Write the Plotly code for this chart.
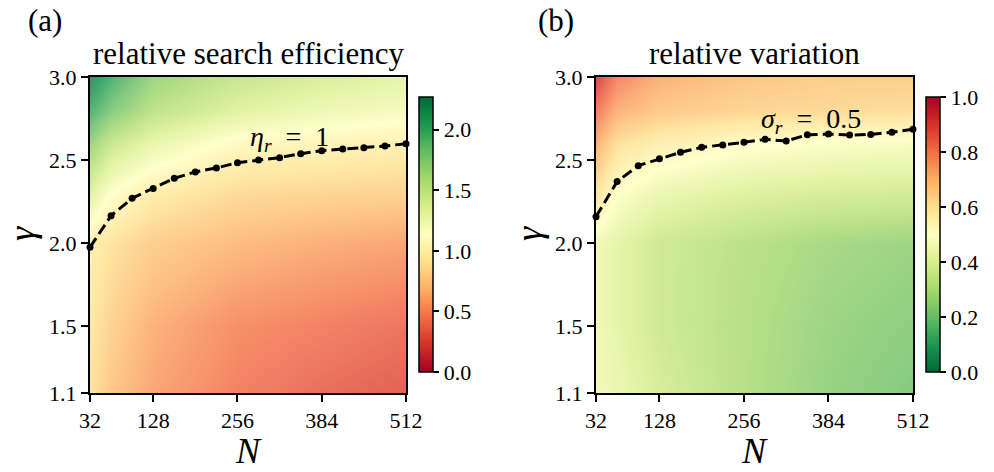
import plotly.graph_objects as go

# ---------------- data ----------------
N_grid = [32, 64, 128, 256, 384, 512]
gamma_grid = [1.1, 1.5, 2.0, 2.3, 2.6, 2.8, 3.0]

# relative search efficiency eta_r (rows: gamma_grid, cols: N_grid)
eta_r = [
    [0.90, 0.74, 0.58, 0.42, 0.33, 0.27],
    [0.93, 0.80, 0.63, 0.48, 0.42, 0.36],
    [1.00, 0.90, 0.78, 0.68, 0.62, 0.58],
    [1.35, 1.13, 0.97, 0.85, 0.82, 0.80],
    [1.70, 1.48, 1.28, 1.08, 1.04, 1.00],
    [2.00, 1.80, 1.55, 1.35, 1.25, 1.20],
    [2.20, 2.00, 1.70, 1.50, 1.40, 1.32],
]

# relative variation sigma_r
sigma_r = [
    [0.46, 0.44, 0.38, 0.30, 0.24, 0.20],
    [0.46, 0.42, 0.36, 0.30, 0.25, 0.22],
    [0.46, 0.42, 0.36, 0.31, 0.27, 0.25],
    [0.60, 0.50, 0.44, 0.40, 0.38, 0.37],
    [0.72, 0.61, 0.56, 0.51, 0.49, 0.48],
    [0.82, 0.72, 0.67, 0.64, 0.63, 0.62],
    [0.93, 0.80, 0.72, 0.68, 0.66, 0.66],
]

N_line = [32, 64, 96, 128, 160, 192, 224, 256, 288, 320, 352, 384, 416, 448, 480, 512]
gamma_eta1 = [1.976, 2.166, 2.271, 2.329, 2.391, 2.429, 2.453, 2.485,
              2.501, 2.515, 2.539, 2.557, 2.567, 2.575, 2.585, 2.599]
gamma_sigma05 = [2.160, 2.371, 2.467, 2.509, 2.547, 2.577, 2.591, 2.607,
                 2.625, 2.615, 2.653, 2.657, 2.651, 2.655, 2.668, 2.686]

x_ticks = [32, 128, 256, 384, 512]
y_ticks = [1.1, 1.5, 2.0, 2.5, 3.0]
y_ticktext = ["1.1", "1.5", "2.0", "2.5", "3.0"]

# ---------------- style ----------------
FONT = "Liberation Serif"
W, H = 994, 472
rdylgn = ["rgb(165,0,38)", "rgb(215,48,39)", "rgb(244,109,67)", "rgb(253,174,97)",
          "rgb(254,224,139)", "rgb(255,255,191)", "rgb(217,239,139)", "rgb(166,217,106)",
          "rgb(102,189,99)", "rgb(26,152,80)", "rgb(0,104,55)"]
cs = [[i / 10, c] for i, c in enumerate(rdylgn)]
cs_r = [[i / 10, c] for i, c in enumerate(rdylgn[::-1])]


def px_x(p):
    return p / W


def px_y(p):
    return 1 - p / H


fig = go.Figure()

cb_common = dict(
    thickness=14, thicknessmode="pixels", len=275, lenmode="pixels",
    yanchor="top", y=px_y(97), xanchor="left", xpad=0, ypad=0,
    outlinecolor="black", outlinewidth=1.5, ticks="outside", ticklen=6,
    tickwidth=1.5, tickcolor="black",
    tickfont=dict(family=FONT, size=22, color="black"),
)

fig.add_trace(go.Heatmap(
    x=N_grid, y=gamma_grid, z=eta_r, zsmooth="best", colorscale=cs,
    zmin=0, zmax=2.27, opacity=0.8, xaxis="x", yaxis="y",
    colorbar=dict(x=px_x(419), tickvals=[0, 0.5, 1, 1.5, 2],
                  ticktext=["0.0", "0.5", "1.0", "1.5", "2.0"], **cb_common),
    hoverinfo="skip",
))
fig.add_trace(go.Heatmap(
    x=N_grid, y=gamma_grid, z=sigma_r, zsmooth="best", colorscale=cs_r,
    zmin=0, zmax=1.0, opacity=0.8, xaxis="x2", yaxis="y2",
    colorbar=dict(x=px_x(926), tickvals=[0, 0.2, 0.4, 0.6, 0.8, 1.0],
                  ticktext=["0.0", "0.2", "0.4", "0.6", "0.8", "1.0"], **cb_common),
    hoverinfo="skip",
))

line_style = dict(color="black", width=3, dash="11px,5px")
fig.add_trace(go.Scatter(x=N_line, y=gamma_eta1, mode="lines+markers",
                         line=line_style, marker=dict(color="black", size=7),
                         xaxis="x", yaxis="y", cliponaxis=False, showlegend=False))
fig.add_trace(go.Scatter(x=N_line, y=gamma_sigma05, mode="lines+markers",
                         line=line_style, marker=dict(color="black", size=7),
                         xaxis="x2", yaxis="y2", cliponaxis=False, showlegend=False))

ax_common = dict(
    showline=True, linecolor="black", linewidth=2, mirror=True,
    ticks="outside", ticklen=7, tickwidth=1.5, tickcolor="black",
    showgrid=False, zeroline=False, automargin=False,
    tickfont=dict(family=FONT, size=22, color="black"),
)
ydom = [px_y(393), px_y(77)]
fig.update_layout(
    width=W, height=H, margin=dict(l=0, r=0, t=0, b=0, autoexpand=False),
    paper_bgcolor="white", plot_bgcolor="white", showlegend=False,
    xaxis=dict(domain=[px_x(90), px_x(406)], range=[32, 512], tickvals=x_ticks,
               anchor="y", **ax_common),
    yaxis=dict(domain=ydom, range=[1.1, 3.0], tickvals=y_ticks, ticktext=y_ticktext,
               anchor="x", **ax_common),
    xaxis2=dict(domain=[px_x(596), px_x(913)], range=[32, 512], tickvals=x_ticks,
                anchor="y2", **ax_common),
    yaxis2=dict(domain=ydom, range=[1.1, 3.0], tickvals=y_ticks, ticktext=y_ticktext,
                anchor="x2", **ax_common),
)

def ann(text, x, y, size, xref="paper", yref="paper", angle=0):
    fig.add_annotation(text=text, x=x, y=y, xref=xref, yref=yref, showarrow=False,
                       xanchor="center", yanchor="middle", textangle=angle,
                       font=dict(family=FONT, size=size, color="black"))

SP = "\u2002"
ann("(a)", px_x(45), px_y(21), 31)
ann("(b)", px_x(556), px_y(21), 31)
ann("relative search efficiency", px_x(248), px_y(53), 31)
ann("relative variation", px_x(754), px_y(53), 31)
ann("<i>N</i>", px_x(248), px_y(451), 36)
ann("<i>N</i>", px_x(754), px_y(451), 36)
ann("<i>γ</i>", px_x(22), px_y(234), 36, angle=-90)
ann("<i>γ</i>", px_x(529), px_y(234), 36, angle=-90)
ann("<i>η</i><sub><i>r</i></sub>" + SP + "=" + SP + "1", 335, 2.63, 28, xref="x", yref="y")
ann("<i>σ</i><sub><i>r</i></sub>" + SP + "=" + SP + "0.5", 357, 2.74, 28, xref="x2", yref="y2")

fig.write_html("out.html")
